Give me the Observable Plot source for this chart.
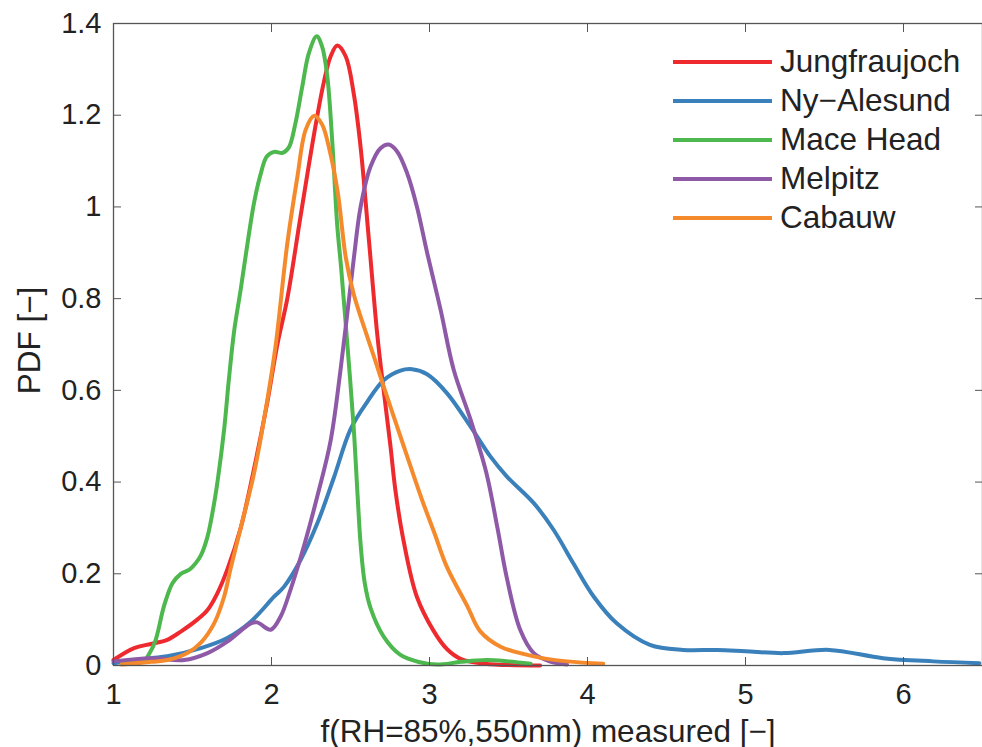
<!DOCTYPE html>
<html>
<head>
<meta charset="utf-8">
<script src="https://cdn.jsdelivr.net/npm/d3@7"></script>
<script src="https://cdn.jsdelivr.net/npm/@observablehq/plot@0.6"></script>
<style>
  body { margin: 0; background: #fff; }
  #wrap { position: relative; width: 982px; height: 747px; font-family: "Liberation Sans", Arial, sans-serif; }
  #legend { position: absolute; left: 673px; top: 42px; }
  .row { display: flex; align-items: center; height: 39px; }
  .sw { width: 99px; height: 4px; margin-right: 8px; }
  .lb { font-size: 31.5px; color: #222; line-height: 39px; }
</style>
</head>
<body>
<div id="wrap"><div id="legend"></div></div>
<script>
// ---- data ----
const seriesNames = ["Jungfraujoch", "Ny\u2212Alesund", "Mace Head", "Melpitz", "Cabauw"];
const seriesColors = ["#ee2a2e", "#3a80ba", "#4db84e", "#8e5aa8", "#f58a2d"];

const jungX = [1.0, 1.13, 1.237, 1.34, 1.426, 1.53, 1.595, 1.658, 1.72, 1.805, 1.89, 1.974, 2.037, 2.10, 2.184, 2.27, 2.33, 2.374, 2.416, 2.47, 2.52, 2.564, 2.616, 2.67, 2.71, 2.753, 2.785, 2.837, 2.92, 3.027, 3.11, 3.2, 3.35, 3.7];
const jungY = [0.012, 0.038, 0.047, 0.056, 0.074, 0.10, 0.121, 0.158, 0.209, 0.30, 0.43, 0.575, 0.70, 0.80, 0.98, 1.16, 1.27, 1.328, 1.352, 1.328, 1.248, 1.13, 0.93, 0.72, 0.60, 0.478, 0.38, 0.27, 0.15, 0.075, 0.036, 0.014, 0.004, 0.0];

const nyX = [1.0, 1.24, 1.34, 1.553, 1.72, 1.87, 2.016, 2.08, 2.184, 2.29, 2.395, 2.5, 2.606, 2.71, 2.816, 2.89, 2.985, 3.11, 3.26, 3.385, 3.49, 3.66, 3.785, 3.91, 4.04, 4.185, 4.395, 4.605, 4.82, 5.0, 5.24, 5.53, 5.87, 6.19, 6.48];
const nyY = [0.005, 0.016, 0.02, 0.038, 0.06, 0.096, 0.15, 0.172, 0.23, 0.31, 0.41, 0.515, 0.575, 0.622, 0.643, 0.646, 0.635, 0.594, 0.521, 0.456, 0.412, 0.354, 0.296, 0.223, 0.15, 0.092, 0.045, 0.034, 0.034, 0.031, 0.027, 0.034, 0.016, 0.009, 0.005];

const maceX = [1.195, 1.26, 1.32, 1.374, 1.426, 1.48, 1.52, 1.553, 1.595, 1.637, 1.66, 1.70, 1.73, 1.763, 1.805, 1.848, 1.89, 1.93, 1.97, 2.016, 2.07, 2.11, 2.15, 2.195, 2.237, 2.286, 2.32, 2.353, 2.385, 2.416, 2.44, 2.48, 2.52, 2.545, 2.565, 2.59, 2.627, 2.71, 2.816, 2.94, 3.05, 3.2, 3.36, 3.5, 3.64];
const maceY = [0.008, 0.049, 0.13, 0.18, 0.20, 0.209, 0.223, 0.24, 0.281, 0.354, 0.405, 0.514, 0.623, 0.728, 0.82, 0.92, 1.01, 1.07, 1.11, 1.12, 1.118, 1.13, 1.18, 1.263, 1.336, 1.372, 1.35, 1.285, 1.14, 0.96, 0.87, 0.70, 0.52, 0.37, 0.26, 0.18, 0.125, 0.063, 0.023, 0.007, 0.002, 0.008, 0.012, 0.009, 0.004];

const melX = [1.0, 1.237, 1.447, 1.595, 1.72, 1.87, 1.91, 1.995, 2.058, 2.12, 2.205, 2.29, 2.374, 2.437, 2.52, 2.564, 2.627, 2.69, 2.742, 2.795, 2.858, 2.92, 2.985, 3.07, 3.153, 3.26, 3.36, 3.43, 3.49, 3.574, 3.66, 3.76, 3.87];
const melY = [0.009, 0.016, 0.012, 0.027, 0.052, 0.092, 0.094, 0.078, 0.107, 0.165, 0.26, 0.369, 0.49, 0.645, 0.885, 1.0, 1.088, 1.128, 1.136, 1.121, 1.074, 1.001, 0.90, 0.776, 0.645, 0.536, 0.42, 0.30, 0.19, 0.078, 0.027, 0.009, 0.002];

const cabX = [1.05, 1.24, 1.34, 1.47, 1.553, 1.637, 1.70, 1.74, 1.805, 1.89, 1.974, 2.027, 2.10, 2.164, 2.216, 2.27, 2.32, 2.37, 2.42, 2.47, 2.52, 2.585, 2.648, 2.71, 2.795, 2.88, 2.953, 3.03, 3.11, 3.24, 3.32, 3.45, 3.66, 3.87, 4.10];
const cabY = [0.002, 0.008, 0.012, 0.028, 0.05, 0.092, 0.15, 0.21, 0.30, 0.42, 0.58, 0.70, 0.92, 1.066, 1.168, 1.199, 1.18, 1.12, 1.03, 0.89, 0.81, 0.739, 0.674, 0.608, 0.521, 0.434, 0.361, 0.29, 0.215, 0.129, 0.075, 0.041, 0.02, 0.009, 0.004];

const xTicks = [1, 2, 3, 4, 5, 6];
const xTickLabels = ["1", "2", "3", "4", "5", "6"];
const yTicks = [0, 0.2, 0.4, 0.6, 0.8, 1, 1.2, 1.4];
const yTickLabels = ["0", "0.2", "0.4", "0.6", "0.8", "1", "1.2", "1.4"];
const xLabel = "f(RH=85%,550nm) measured [\u2212]";
const yLabel = "PDF [\u2212]";

// ---- build table ----
const allX = [jungX, nyX, maceX, melX, cabX];
const allY = [jungY, nyY, maceY, melY, cabY];
const rows = [];
seriesNames.forEach((name, i) => {
  allX[i].forEach((x, j) => rows.push({series: name, x, y: allY[i][j]}));
});

const textColor = "#222";
const axisColor = "#555";
const fmtX = d => xTickLabels[xTicks.indexOf(d)];
const fmtY = d => yTickLabels[yTicks.findIndex(t => Math.abs(t - d) < 1e-9)];

const lines = seriesNames.map((name, i) =>
  Plot.line(rows.filter(r => r.series === name), {x: "x", y: "y", stroke: seriesColors[i], strokeWidth: 4, curve: "catmull-rom"})
);

const chart = Plot.plot({
  width: 982,
  height: 747,
  marginLeft: 113,
  marginRight: 0,
  marginTop: 23,
  marginBottom: 82,
  style: {fontFamily: "'Liberation Sans', Arial, sans-serif", fontSize: "29px", color: textColor, background: "#fff"},
  x: {domain: [1, 6.5]},
  y: {domain: [0, 1.4]},
  marks: [
    ...lines,
    Plot.frame({stroke: axisColor, strokeWidth: 1.3}),
    Plot.axisX({ticks: xTicks, tickFormat: fmtX, tickSize: 0, tickPadding: 18, label: null, fill: textColor}),
    Plot.axisX({ticks: xTicks, tickFormat: () => "", tickSize: -8, label: null, stroke: axisColor}),
    Plot.axisX({anchor: "top", ticks: xTicks, tickFormat: () => "", tickSize: -8, label: null, stroke: axisColor}),
    Plot.axisY({ticks: yTicks, tickFormat: fmtY, tickSize: 0, tickPadding: 12, label: null, fill: textColor}),
    Plot.axisY({ticks: yTicks, tickFormat: () => "", tickSize: -8, label: null, stroke: axisColor}),
    Plot.axisY({anchor: "right", ticks: yTicks, tickFormat: () => "", tickSize: -8, label: null, stroke: axisColor}),
    Plot.text([xLabel], {text: d => d, frameAnchor: "bottom", dy: 76, lineAnchor: "bottom", textAnchor: "middle", fill: textColor, fontSize: 31.5}),
    Plot.text([yLabel], {text: d => d, frameAnchor: "left", dx: -84, dy: -4, rotate: -90, lineAnchor: "middle", textAnchor: "middle", fill: textColor, fontSize: 31.5})
  ]
});

const wrap = document.getElementById("wrap");
wrap.insertBefore(chart, wrap.firstChild);

const legend = document.getElementById("legend");
seriesNames.forEach((name, i) => {
  const row = document.createElement("div");
  row.className = "row";
  const sw = document.createElement("div");
  sw.className = "sw";
  sw.style.background = seriesColors[i];
  const lb = document.createElement("span");
  lb.className = "lb";
  lb.textContent = name;
  row.appendChild(sw);
  row.appendChild(lb);
  legend.appendChild(row);
});
</script>
</body>
</html>
